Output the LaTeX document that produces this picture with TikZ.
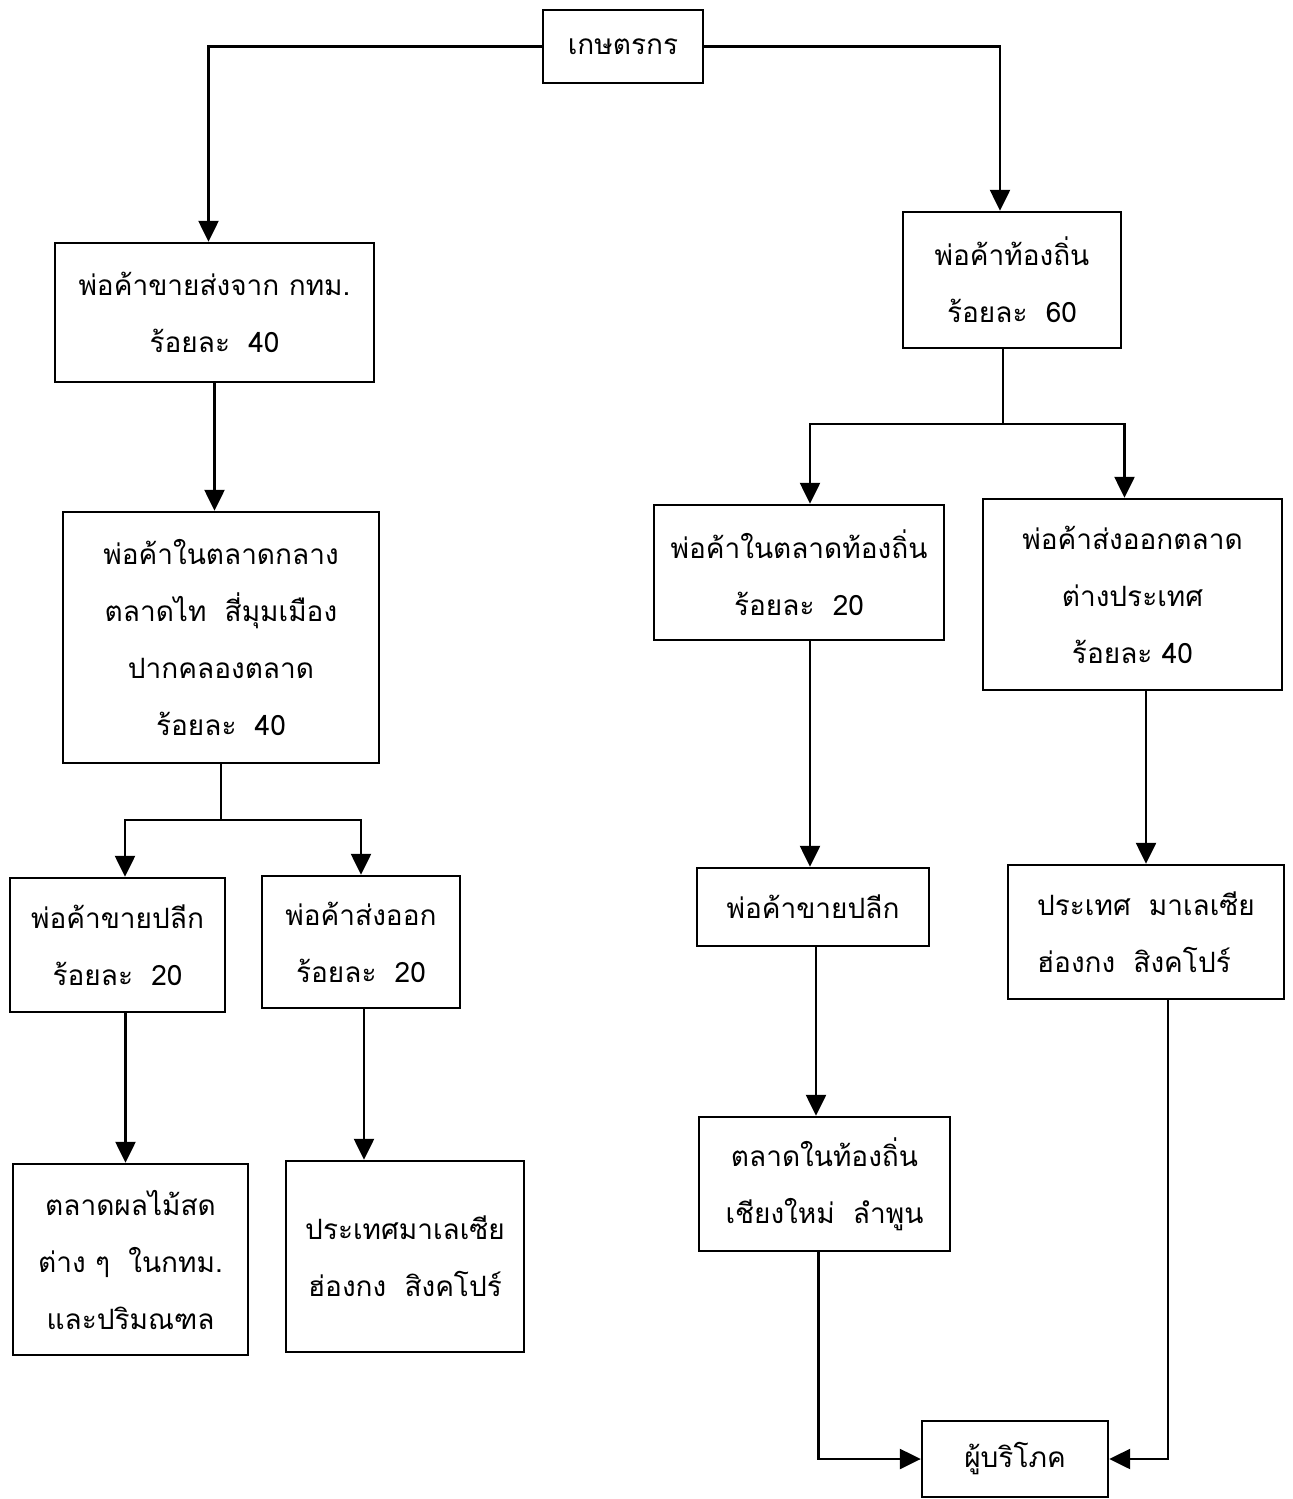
\documentclass[tikz,border=0pt]{standalone}
\usepackage{fontspec}
\newfontfamily\thai[Script=Thai]{Loma}
\usetikzlibrary{arrows.meta}
\newcommand{\gap}{\hspace{0.65em}}
\tikzset{
  box/.style={draw, line width=1.2pt, inner sep=0pt, align=center,
    font=\thai\fontsize{14}{28.5}\selectfont},
  conn/.style={line width=1.2pt},
  arr/.style={conn, -{Triangle[length=10.5pt,width=10pt]}}
}
\begin{document}
\begin{tikzpicture}[x=0.5pt,y=-0.5pt]
\useasboundingbox (0,0) rectangle (1292,1499);
\node[box, minimum width=80pt, minimum height=36.5pt] (b1) at (623,46.5) {เกษตรกร};
\node[box, minimum width=159.5pt, minimum height=69.5pt] (b2) at (214.5,312.5) {พ่อค้าขายส่งจาก กทม.\\ร้อยละ\gap 40};
\node[box, minimum width=109pt, minimum height=68pt] (b3) at (1012,280) {พ่อค้าท้องถิ่น\\ร้อยละ\gap 60};
\node[box, minimum width=158pt, minimum height=125.5pt] (b4) at (221,637.5) {พ่อค้าในตลาดกลาง\\ตลาดไท\gap สี่มุมเมือง\\ปากคลองตลาด\\ร้อยละ\gap 40};
\node[box, minimum width=145pt, minimum height=67.5pt] (b5) at (799,572.5) {พ่อค้าในตลาดท้องถิ่น\\ร้อยละ\gap 20};
\node[box, minimum width=149.5pt, minimum height=95.5pt] (b6) at (1132.5,594.5) {พ่อค้าส่งออกตลาด\\ต่างประเทศ\\ร้อยละ 40};
\node[box, minimum width=107.5pt, minimum height=67pt] (b7) at (117.5,945) {พ่อค้าขายปลีก\\ร้อยละ\gap 20};
\node[box, minimum width=99pt, minimum height=66pt] (b8) at (361,942) {พ่อค้าส่งออก\\ร้อยละ\gap 20};
\node[box, minimum width=116pt, minimum height=39pt] (b9) at (813,907) {พ่อค้าขายปลีก};
\node[box, align=left, minimum width=138pt, minimum height=67pt] (b10) at (1146,932) {ประเทศ\gap มาเลเซีย\\ฮ่องกง\gap สิงคโปร์};
\node[box, minimum width=117.5pt, minimum height=95.5pt] (b11) at (130.5,1259.5) {ตลาดผลไม้สด\\ต่าง ๆ\gap ในกทม.\\และปริมณฑล};
\node[box, minimum width=119pt, minimum height=95.5pt] (b12) at (405,1256.5) {ประเทศมาเลเซีย\\ฮ่องกง\gap สิงคโปร์};
\node[box, minimum width=125.5pt, minimum height=67pt] (b13) at (824.5,1184) {ตลาดในท้องถิ่น\\เชียงใหม่\gap ลำพูน};
\node[box, minimum width=93pt, minimum height=38pt] (b14) at (1015,1459) {ผู้บริโภค};

\coordinate (j1) at (1003,424);
\coordinate (j2) at (221,820);

\draw[arr] (b1.west) -| ([xshift=-3pt]b2.north);
\draw[arr] (b1.east) -| ([xshift=-6pt]b3.north);
\draw[arr] (b2.south) -- (b2.south |- b4.north);

\draw[conn] ([xshift=-4.5pt]b3.south) -- (j1);
\draw[arr] (j1) -| ([xshift=5.5pt]b5.north);
\draw[arr] (j1) -| ([xshift=-4pt]b6.north);

\draw[conn] (b4.south) -- (j2);
\draw[arr] (j2) -| ([xshift=3.75pt]b7.north);
\draw[arr] (j2) -| (b8.north);

\draw[arr] ([xshift=4pt]b7.south) -- ([xshift=4pt]b7.south |- b11.north);
\draw[arr] ([xshift=1.5pt]b8.south) -- ([xshift=1.5pt]b8.south |- b12.north);
\draw[arr] ([xshift=5.5pt]b5.south) -- ([xshift=5.5pt]b5.south |- b9.north);
\draw[arr] (b10.north |- b6.south) -- (b10.north);
\draw[arr] ([xshift=1.5pt]b9.south) -- ([xshift=1.5pt]b9.south |- b13.north);
\draw[arr] ([xshift=-3pt]b13.south) |- (b14.west);
\draw[arr] ([xshift=11pt]b10.south) |- (b14.east);
\end{tikzpicture}
\end{document}
